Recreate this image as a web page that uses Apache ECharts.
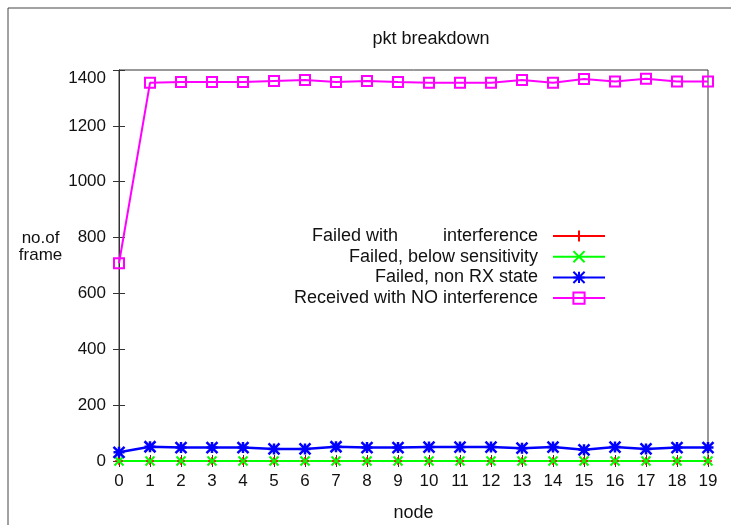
<!DOCTYPE html>
<html>
<head>
<meta charset="utf-8">
<script src="https://cdn.jsdelivr.net/npm/echarts@6/dist/echarts.min.js"></script>
<style>
  html, body { margin: 0; padding: 0; background: #fff; }
  #main { width: 731px; height: 525px; }
</style>
</head>
<body>
<div id="main"></div>
<script>
// node ids on the x axis
var nodes = [0,1,2,3,4,5,6,7,8,9,10,11,12,13,14,15,16,17,18,19];
// frames per node
var failedInterference = [0,0,0,0,0,0,0,0,0,0,0,0,0,0,0,0,0,0,0,0];
var failedSensitivity  = [0,0,0,0,0,0,0,0,0,0,0,0,0,0,0,0,0,0,0,0];
var failedNonRx = [31,51,48,48,48,43,43,51,48,48,50,50,50,46,50,40,50,43,48,48];
var received = [708,1354,1357,1357,1357,1361,1364,1357,1361,1357,1354,1354,1354,1364,1354,1368,1359,1369,1359,1359];
var yTicks = [0,200,400,600,800,1000,1200,1400];

var FONT = "'Liberation Sans', Arial, sans-serif";

function pairs(vals) {
	return nodes.map(function (n, i) { return [n, vals[i]]; });
}

var plusPath = 'path://M0,5L10,5M5,0L5,10';
var crossPath = 'path://M0,0L10,10M10,0L0,10';
var starPath = 'path://M0,0L10,10M10,0L0,10M0,5L10,5M5,0L5,10';

var myChart = echarts.init(document.getElementById('main'));

var axisLine = { show: true, lineStyle: { color: '#333', width: 1 } };
var tickIn = { show: true, inside: true, length: 6, lineStyle: { color: '#333' } };

var option = {
	animation: false,
	backgroundColor: '#fff',
	textStyle: { fontFamily: FONT },
	title: {
		text: 'pkt breakdown',
		left: 426,
		top: 25,
		textAlign: 'center',
		textStyle: { fontFamily: FONT, fontSize: 18, fontWeight: 'normal', color: '#111' }
	},
	graphic: [{
		type: 'rect',
		shape: { x: 8, y: 8, width: 900, height: 700 },
		style: { fill: 'none', stroke: '#444', lineWidth: 1 },
		silent: true,
		z: -1
	}],
	legend: {
		orient: 'vertical',
		align: 'right',
		right: 120,
		top: 222,
		itemWidth: 52,
		itemHeight: 14,
		itemGap: 2.7,
		textStyle: { fontFamily: FONT, fontSize: 18, color: '#111', padding: [0, 10, 0, 0] },
		data: ['Failed with         interference', 'Failed, below sensitivity',
			'Failed, non RX state', 'Received with NO interference']
	},
	grid: { left: 119, right: 23, top: 70, bottom: 64, outerBoundsMode: 'none',
		show: true, borderColor: '#333', borderWidth: 1 },
	xAxis: [{
		type: 'value', min: 0, max: 19, interval: 1,
		name: 'node', nameLocation: 'middle', nameGap: 43,
		nameTextStyle: { fontFamily: FONT, fontSize: 18, color: '#111' },
		axisLine: axisLine, axisTick: tickIn, splitLine: { show: false },
		axisLabel: { fontFamily: FONT, fontSize: 17, color: '#111', margin: 12 }
	}, {
		type: 'value', min: 0, max: 19, interval: 1, position: 'top',
		axisLine: axisLine, axisTick: tickIn, splitLine: { show: false },
		axisLabel: { show: false }
	}],
	yAxis: [{
		type: 'value', min: 0, max: 1400, interval: 200,
		name: 'no.of\nframe', nameLocation: 'middle', nameRotate: 0, nameGap: 77,
		nameTextStyle: { fontFamily: FONT, fontSize: 17, color: '#111', align: 'center',
			verticalAlign: 'bottom', lineHeight: 17, padding: [0, 0, 2, 0] },
		axisLine: axisLine, axisTick: tickIn, splitLine: { show: false },
		axisLabel: { fontFamily: FONT, fontSize: 17, color: '#111', margin: 13,
			verticalAlignMaxLabel: 'top',
			formatter: function (v) { return yTicks.indexOf(v) >= 0 ? String(v) : ''; } }
	}, {
		type: 'value', min: 0, max: 1400, interval: 200, position: 'right',
		axisLine: axisLine, axisTick: tickIn, splitLine: { show: false },
		axisLabel: { show: false }
	}],
	series: [{
		name: 'Failed with         interference',
		type: 'line',
		data: pairs(failedInterference),
		symbol: plusPath, symbolSize: 8,
		lineStyle: { color: '#ff0000', width: 2 },
		itemStyle: { color: '#ff0000', borderColor: '#ff0000', borderWidth: 1.5 }
	}, {
		name: 'Failed, below sensitivity',
		type: 'line',
		data: pairs(failedSensitivity),
		symbol: crossPath, symbolSize: 9,
		lineStyle: { color: '#00ff00', width: 2 },
		itemStyle: { color: '#00ff00', borderColor: '#00ff00', borderWidth: 2 }
	}, {
		name: 'Failed, non RX state',
		type: 'line',
		data: pairs(failedNonRx),
		symbol: starPath, symbolSize: 11,
		lineStyle: { color: '#0000ff', width: 2.5 },
		itemStyle: { color: '#0000ff', borderColor: '#0000ff', borderWidth: 2.5 }
	}, {
		name: 'Received with NO interference',
		type: 'line',
		data: pairs(received),
		symbol: 'rect', symbolSize: 10,
		lineStyle: { color: '#ff00ff', width: 2 },
		itemStyle: { color: 'rgba(255,255,255,0)', borderColor: '#ff00ff', borderWidth: 2 }
	}]
};

myChart.setOption(option);
</script>
</body>
</html>
